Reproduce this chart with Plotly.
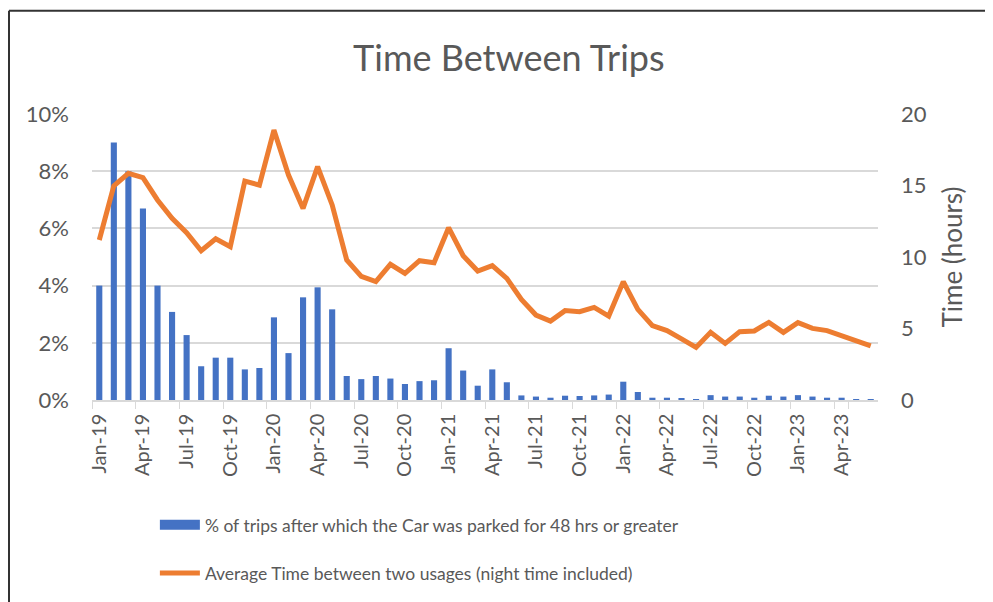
import plotly.graph_objects as go

months = [
    "Jan-19", "Feb-19", "Mar-19", "Apr-19", "May-19", "Jun-19", "Jul-19", "Aug-19", "Sep-19", "Oct-19", "Nov-19", "Dec-19",
    "Jan-20", "Feb-20", "Mar-20", "Apr-20", "May-20", "Jun-20", "Jul-20", "Aug-20", "Sep-20", "Oct-20", "Nov-20", "Dec-20",
    "Jan-21", "Feb-21", "Mar-21", "Apr-21", "May-21", "Jun-21", "Jul-21", "Aug-21", "Sep-21", "Oct-21", "Nov-21", "Dec-21",
    "Jan-22", "Feb-22", "Mar-22", "Apr-22", "May-22", "Jun-22", "Jul-22", "Aug-22", "Sep-22", "Oct-22", "Nov-22", "Dec-22",
    "Jan-23", "Feb-23", "Mar-23", "Apr-23", "May-23", "Jun-23",
]

pct_parked_48h = [
    4.0, 9.0, 8.0, 6.7, 4.0, 3.08, 2.27, 1.18, 1.48, 1.48, 1.07, 1.12,
    2.89, 1.64, 3.59, 3.94, 3.17, 0.84, 0.73, 0.84, 0.75, 0.56, 0.66, 0.69,
    1.81, 1.03, 0.50, 1.07, 0.62, 0.16, 0.12, 0.08, 0.15, 0.14, 0.16, 0.19,
    0.64, 0.28, 0.08, 0.08, 0.06, 0.03, 0.17, 0.12, 0.12, 0.08, 0.15, 0.12,
    0.17, 0.12, 0.08, 0.08, 0.03, 0.03,
]

avg_hours_between = [
    11.19, 14.97, 15.85, 15.55, 13.99, 12.70, 11.70, 10.44, 11.28, 10.72, 15.31, 15.03,
    18.88, 15.73, 13.40, 16.32, 13.64, 9.79, 8.65, 8.28, 9.49, 8.86, 9.74, 9.60,
    12.05, 10.09, 9.02, 9.39, 8.51, 7.04, 5.94, 5.52, 6.25, 6.18, 6.48, 5.87,
    8.28, 6.34, 5.20, 4.85, 4.27, 3.68, 4.73, 3.96, 4.78, 4.83, 5.43, 4.73,
    5.41, 5.01, 4.85, 4.48, 4.15, 3.78,
]

x_tick_labels = months[::3]

bar_name = "% of trips after which the Car was parked for 48 hrs or greater"
line_name = "Average Time between two usages (night time included)"
chart_title = "Time Between Trips"
right_axis_title = "Time (hours)"

TEXT = "#595959"
GRID = "#D9D9D9"
BLUE = "#4472C4"
ORANGE = "#ED7D31"
FONT = "Lato"

fig = go.Figure()
fig.add_trace(go.Bar(
    x=months, y=[v / 100 for v in pct_parked_48h], name=bar_name,
    marker=dict(color=BLUE, line=dict(width=0)), width=0.42,
    showlegend=False,
))
# legend-only entry so the bar series gets a wide rectangular key like the original
fig.add_trace(go.Scatter(
    x=[None], y=[None], name=bar_name, mode="lines",
    line=dict(color=BLUE, width=13), legend="legend", showlegend=True, hoverinfo="skip",
))
fig.add_trace(go.Scatter(
    x=months, y=avg_hours_between, name=line_name, yaxis="y2", mode="lines",
    line=dict(color=ORANGE, width=5), legend="legend2", showlegend=True,
))

fig.update_layout(
    width=985, height=594,
    showlegend=True,
    margin=dict(l=84, r=115, t=106, b=202, autoexpand=False),
    paper_bgcolor="white", plot_bgcolor="white",
    font=dict(family=FONT, color=TEXT, size=21),
    title=dict(text=chart_title, x=0.5085, xanchor="center", y=1 - 50 / 594, yanchor="middle",
               yref="container", font=dict(size=36, color=TEXT, family=FONT)),
    xaxis=dict(
        type="category", tickmode="array", tickvals=x_tick_labels, ticktext=x_tick_labels,
        tickson="boundaries", ticks="outside", ticklen=7, tickcolor=GRID, tickwidth=1,
        tickangle=-90, showline=True, linecolor=GRID, linewidth=1.5, showgrid=False,
        tickfont=dict(size=20, color=TEXT), range=[-0.5, len(months) - 0.5],
        ticklabelstandoff=4,
    ),
    yaxis=dict(
        range=[0, 0.10], dtick=0.02, tick0=0, tickformat=".0%", showgrid=True, gridcolor=GRID,
        gridwidth=1.5, zeroline=False, showline=False, ticks="", tickfont=dict(size=22, color=TEXT),
        ticklabelstandoff=22,
    ),
    yaxis2=dict(
        range=[0, 20], dtick=5, tick0=0, overlaying="y", side="right", showgrid=False,
        zeroline=False, showline=False, ticks="", tickfont=dict(size=22, color=TEXT),
        ticklabelstandoff=22,
        title=dict(text=right_axis_title, font=dict(size=26, color=TEXT), standoff=18),
    ),
    legend=dict(x=0.080, y=-0.437, xanchor="left", yanchor="middle", bgcolor="rgba(0,0,0,0)",
                font=dict(size=17.5, color=TEXT), itemwidth=40),
    legend2=dict(x=0.080, y=-0.605, xanchor="left", yanchor="middle", bgcolor="rgba(0,0,0,0)",
                 font=dict(size=17.5, color=TEXT), itemwidth=40),
    shapes=[
        dict(type="line", xref="paper", yref="paper", x0=-0.1056, x1=-0.1056, y0=1.361, y1=-1.2,
             line=dict(color="#333333", width=2)),
        dict(type="line", xref="paper", yref="paper", x0=-0.1056, x1=1.3, y0=1.361, y1=1.361,
             line=dict(color="#333333", width=2)),
    ],
)

fig.write_html("out.html")
